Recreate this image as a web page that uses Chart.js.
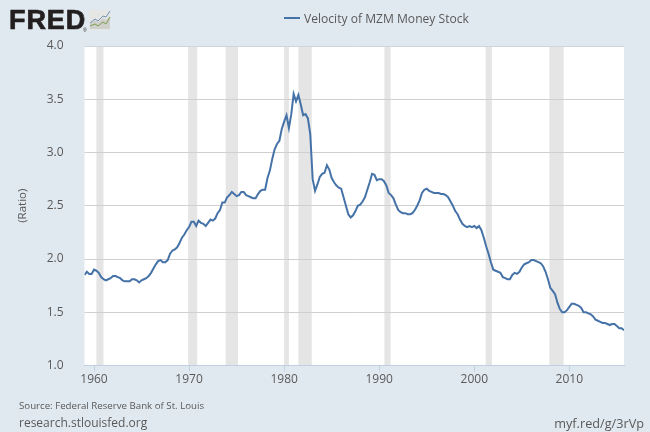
<!DOCTYPE html>
<html lang="en">
<head>
    <meta charset="UTF-8">
    <title>Velocity of MZM Money Stock</title>
    <style>
        html, body { margin: 0; padding: 0; background: #e1e9f0; }
        .main-container { position: relative; width: 650px; height: 432px; overflow: hidden; font-family: "Open Sans", sans-serif; color: #595959; }
        canvas { position: absolute; left: 0; top: 0; }
        .logo { position: absolute; left: 9px; top: 5px; font: bold 27px/30px "Liberation Sans", sans-serif; color: #231f20; -webkit-text-stroke: 0.7px #231f20; letter-spacing: 0.9px; }
        .logo sup { position: absolute; left: 74px; top: 23px; font: 5px/5px "Liberation Sans", sans-serif; -webkit-text-stroke: 0; letter-spacing: 0; }
        .logo-icon { position: absolute; left: 89px; top: 10px; }
        .legend { position: absolute; left: 284px; top: 10px; font-size: 12.1px; line-height: 18px; white-space: nowrap; }
        .legend i { display: inline-block; width: 16px; height: 2px; background: #4572a7; vertical-align: 4px; margin-right: 4px; }
        .source { position: absolute; left: 19px; top: 399px; font-size: 9.7px; line-height: 14px; white-space: nowrap; }
        .site { position: absolute; left: 19px; top: 415px; font-size: 12px; line-height: 16px; white-space: nowrap; }
        .short-url { position: absolute; right: 6px; top: 415px; font-size: 12.7px; line-height: 16px; white-space: nowrap; }
    </style>
</head>
<body>
    <div class="main-container">
        <canvas id="lineChart" width="650" height="432"></canvas>
        <div class="logo">FRED<sup>®</sup></div>
        <svg class="logo-icon" width="22" height="21" viewBox="0 0 22 21">
            <rect x="0" y="0" width="21" height="20" rx="1" fill="#e6e6e4"/>
            <path d="M1 19 L1 13 L6 10 L9 12 L14 8 L17 10 L21 6 L21 19 Z" fill="#cfcfcb"/>
            <path d="M1 13 L6 9 L9 11 L14 6 L17 7 L21 1" fill="none" stroke="#6f93b5" stroke-width="1"/>
            <path d="M1 16 L6 14 L9 16 L14 12 L17 14 L21 7" fill="none" stroke="#7c9d4f" stroke-width="1"/>
        </svg>
        <div class="legend"><i></i>Velocity of MZM Money Stock</div>
        <div class="source">Source: Federal Reserve Bank of St. Louis</div>
        <div class="site">research.stlouisfed.org</div>
        <div class="short-url">myf.red/g/3rVp</div>
    </div>

    <script src="https://cdn.jsdelivr.net/npm/chart.js"></script>
    <script>
        // Quarterly values by year
        const velocity = {
            1959: [1.85, 1.88, 1.86, 1.86], 1960: [1.90, 1.89, 1.87, 1.83], 1961: [1.81, 1.80, 1.81, 1.82],
            1962: [1.84, 1.84, 1.83, 1.82], 1963: [1.80, 1.79, 1.79, 1.79], 1964: [1.81, 1.81, 1.80, 1.78],
            1965: [1.80, 1.81, 1.82, 1.84], 1966: [1.87, 1.91, 1.95, 1.98], 1967: [1.99, 1.97, 1.97, 1.99],
            1968: [2.05, 2.08, 2.09, 2.11], 1969: [2.15, 2.20, 2.23, 2.27], 1970: [2.30, 2.35, 2.35, 2.31],
            1971: [2.36, 2.34, 2.33, 2.31], 1972: [2.34, 2.37, 2.36, 2.38], 1973: [2.43, 2.46, 2.53, 2.53],
            1974: [2.58, 2.60, 2.63, 2.61], 1975: [2.59, 2.60, 2.63, 2.63], 1976: [2.60, 2.59, 2.58, 2.57],
            1977: [2.57, 2.61, 2.64, 2.65], 1978: [2.65, 2.76, 2.83, 2.94], 1979: [3.03, 3.08, 3.11, 3.22],
            1980: [3.29, 3.35, 3.23, 3.36], 1981: [3.55, 3.48, 3.54, 3.45], 1982: [3.35, 3.36, 3.32, 3.17],
            1983: [2.75, 2.64, 2.70, 2.77], 1984: [2.80, 2.81, 2.88, 2.84], 1985: [2.76, 2.72, 2.69, 2.67],
            1986: [2.66, 2.58, 2.50, 2.42], 1987: [2.39, 2.41, 2.45, 2.50], 1988: [2.51, 2.54, 2.58, 2.65],
            1989: [2.72, 2.80, 2.79, 2.74], 1990: [2.75, 2.75, 2.73, 2.69], 1991: [2.62, 2.60, 2.57, 2.51],
            1992: [2.46, 2.44, 2.43, 2.43], 1993: [2.42, 2.42, 2.43, 2.46], 1994: [2.50, 2.55, 2.62, 2.65],
            1995: [2.66, 2.64, 2.63, 2.62], 1996: [2.62, 2.62, 2.61, 2.61], 1997: [2.60, 2.58, 2.54, 2.50],
            1998: [2.45, 2.42, 2.37, 2.33], 1999: [2.31, 2.30, 2.31, 2.30], 2000: [2.31, 2.29, 2.31, 2.27],
            2001: [2.20, 2.12, 2.05, 1.97], 2002: [1.90, 1.89, 1.88, 1.87], 2003: [1.83, 1.82, 1.81, 1.81],
            2004: [1.85, 1.87, 1.86, 1.88], 2005: [1.92, 1.95, 1.96, 1.97], 2006: [1.99, 1.99, 1.98, 1.97],
            2007: [1.96, 1.93, 1.88, 1.81], 2008: [1.73, 1.70, 1.67, 1.59], 2009: [1.53, 1.50, 1.50, 1.52],
            2010: [1.55, 1.58, 1.58, 1.57], 2011: [1.56, 1.54, 1.50, 1.50], 2012: [1.49, 1.48, 1.46, 1.43],
            2013: [1.42, 1.41, 1.40, 1.40], 2014: [1.39, 1.38, 1.39, 1.39], 2015: [1.37, 1.35, 1.35, 1.33]
        };

        const points = [];
        Object.keys(velocity).forEach(year => {
            velocity[year].forEach((value, q) => {
                points.push({ x: Number(year) + q / 4, y: value });
            });
        });

        // NBER recessions, start and end as decimal years
        const recessions = [
            [1960.25, 1961.0], [1969.9, 1970.85], [1973.85, 1975.15], [1980.0, 1980.5],
            [1981.5, 1982.9], [1990.55, 1991.2], [2001.2, 2001.85], [2007.9, 2009.4]
        ];

        const plotBackground = {
            id: 'plotBackground',
            beforeDraw(chart) {
                const { ctx, chartArea: area, scales: { x } } = chart;
                ctx.save();
                ctx.fillStyle = '#ffffff';
                ctx.fillRect(area.left, area.top, area.width, area.height);
                ctx.fillStyle = '#e5e5e5';
                recessions.forEach(r => {
                    ctx.fillRect(x.getPixelForValue(r[0]), area.top, x.getPixelForValue(r[1]) - x.getPixelForValue(r[0]), area.height);
                });
                ctx.restore();
            }
        };

        const tickFont = { family: '"Open Sans", sans-serif', size: 12 };

        new Chart(document.getElementById('lineChart').getContext('2d'), {
            type: 'line',
            data: {
                datasets: [{
                    label: 'Velocity of MZM Money Stock',
                    data: points,
                    borderColor: '#4572a7',
                    borderWidth: 2,
                    pointRadius: 0,
                    tension: 0
                }]
            },
            options: {
                responsive: false,
                animation: false,
                layout: { padding: { left: 0, right: 26, top: 46, bottom: 0 } },
                plugins: { legend: { display: false }, tooltip: { enabled: false } },
                scales: {
                    x: {
                        type: 'linear',
                        min: 1959,
                        max: 2015.75,
                        afterBuildTicks: axis => {
                            axis.ticks = [1960, 1970, 1980, 1990, 2000, 2010].map(v => ({ value: v }));
                        },
                        afterFit: axis => { axis.height = 66.5; },
                        grid: { drawOnChartArea: false, color: '#c0d0e0', tickLength: 6 },
                        border: { color: '#c0d0e0' },
                        ticks: { color: '#595959', font: tickFont, maxRotation: 0, padding: 1, callback: v => String(v) }
                    },
                    y: {
                        min: 1,
                        max: 4,
                        afterFit: axis => { axis.width = 84.5; },
                        grid: { color: ctx => ctx.tick.value === 4 ? '#cdd6de' : ctx.tick.value === 1 ? 'rgba(0,0,0,0)' : '#d0d0d0', tickLength: 0 },
                        border: { display: false },
                        ticks: { color: '#595959', font: tickFont, stepSize: 0.5, padding: 21, callback: v => v.toFixed(1) },
                        title: { display: true, text: '(Ratio)', color: '#595959', font: { family: '"Open Sans", sans-serif', size: 11.5 }, padding: { top: 16, bottom: 0 } }
                    }
                }
            },
            plugins: [plotBackground]
        });
    </script>
</body>
</html>
